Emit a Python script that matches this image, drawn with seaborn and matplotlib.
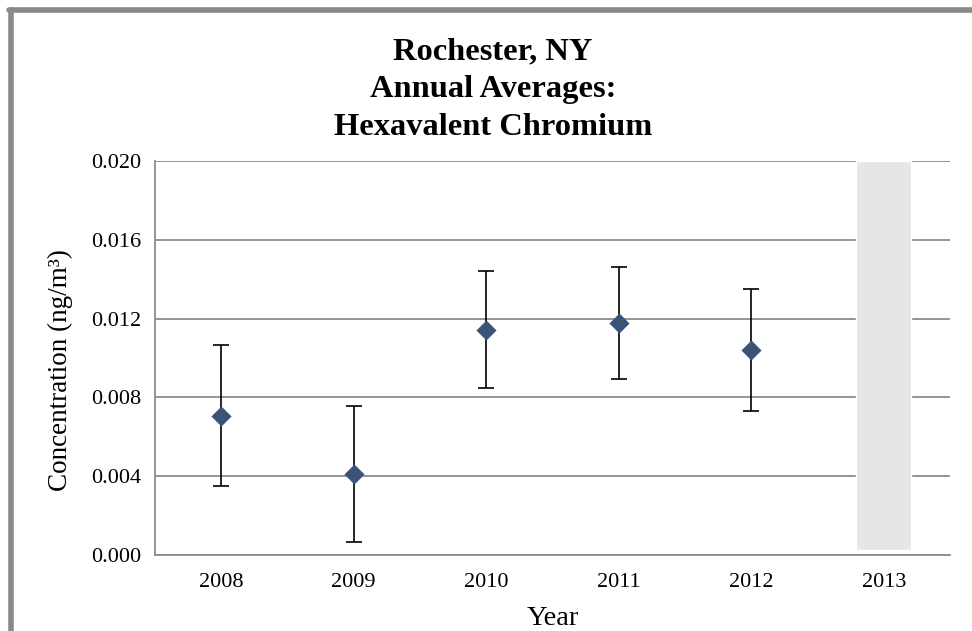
import numpy as np
import pandas as pd
import matplotlib
matplotlib.use("Agg")
import matplotlib.pyplot as plt
import seaborn as sns
from matplotlib.lines import Line2D

# Data
years = ["2008", "2009", "2010", "2011", "2012", "2013"]
means = [0.00707, 0.00411, 0.01142, 0.01178, 0.01040, np.nan]
err_low = [0.00357, 0.00343, 0.00294, 0.00285, 0.00310, np.nan]
err_high = [0.00359, 0.00344, 0.00301, 0.00284, 0.00310, np.nan]

# 2013: no data, shaded column
shade_year = "2013"
shade_bottom = 0.00025
shade_top = 0.020

df = pd.DataFrame({"Year": years, "Mean": means, "Low": err_low, "High": err_high})
df["pos"] = np.arange(len(years))

sns.set_style("white")
plt.rcParams["font.family"] = ["Liberation Serif", "DejaVu Serif"]
plt.rcParams["text.color"] = "black"
plt.rcParams["axes.labelcolor"] = "black"
plt.rcParams["xtick.color"] = "black"
plt.rcParams["ytick.color"] = "black"

fig = plt.figure(figsize=(9.72, 6.31), dpi=100)
ax = fig.add_axes([155 / 972, 76 / 631, 795 / 972, 394 / 631])

# shaded column for 2013
shade_pos = years.index(shade_year)
ax.bar(shade_pos, shade_top - shade_bottom, bottom=shade_bottom, width=0.415,
       color="#e6e6e6", zorder=1)

# error bars + diamond markers
pts = df.dropna()
ax.errorbar(pts["pos"], pts["Mean"], yerr=[pts["Low"], pts["High"]], fmt="none",
            ecolor="black", elinewidth=1.2, capsize=6, capthick=1.2, zorder=3)
sns.scatterplot(data=pts, x="pos", y="Mean", marker="D", s=105, color="#3a5378",
                edgecolor="#3a5378", linewidth=0, ax=ax, zorder=4)

# axes
ax.set_ylim(0, 0.020)
ax.set_xlim(-0.5, len(years) - 0.5)
ax.set_yticks(np.arange(0, 0.0201, 0.004))
ax.set_yticklabels([f"{v:.3f}" for v in np.arange(0, 0.0201, 0.004)])
ax.set_xticks(np.arange(-0.5, len(years), 1))
ax.set_xticklabels([])
ax.set_xticks(df["pos"], minor=True)
ax.set_xticklabels(years, minor=True)
ax.tick_params(axis="x", which="major", length=6, width=1, color="#888888", direction="out")
ax.tick_params(axis="x", which="minor", length=0, labelsize=16, pad=13)
ax.tick_params(axis="y", length=6, width=1, color="#888888", direction="out", labelsize=16, pad=4)
ax.yaxis.grid(True, color="#8c8c8c", linewidth=1.3, zorder=0)
ax.set_axisbelow(True)
for s in ["top", "right"]:
    ax.spines[s].set_visible(False)
for s in ["left", "bottom"]:
    ax.spines[s].set_color("#8c8c8c")
    ax.spines[s].set_linewidth(1.3)

ax.set_xlabel("Year", fontsize=20.5, labelpad=10)
ax.set_ylabel("Concentration (ng/m³)", fontsize=19.5)
ax.yaxis.set_label_coords(-0.103, 0.47)

fig.text(0.507, 1 - 89.5 / 631, "Rochester, NY\nAnnual Averages:\nHexavalent Chromium",
         ha="center", va="center", fontsize=23.4, fontweight="bold", linespacing=1.41)

# gray frame at top and left of the figure
fig.add_artist(Line2D([10.5 / 972, 10.5 / 972], [0, 1 - 9.5 / 631], color="#8a8a8a",
                      linewidth=4, transform=fig.transFigure))
fig.add_artist(Line2D([8.5 / 972, 1], [1 - 9.5 / 631, 1 - 9.5 / 631], color="#8a8a8a",
                      linewidth=4, transform=fig.transFigure))

fig.savefig("out.png", dpi=100)
